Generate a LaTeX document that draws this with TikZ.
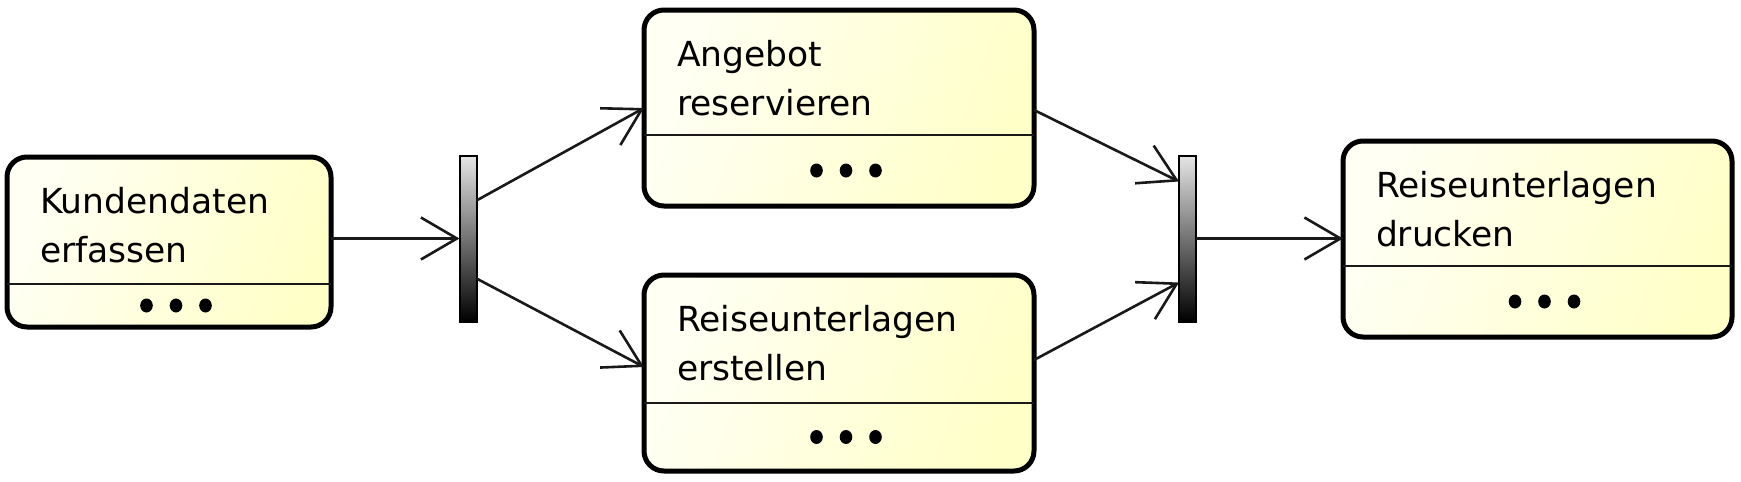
\documentclass[tikz,border=0pt]{standalone}
\usepackage{fontspec}
\setmainfont{DejaVu Sans}
\usetikzlibrary{arrows.meta,calc}
\definecolor{boxA}{RGB}{255,255,244}
\definecolor{boxB}{RGB}{255,255,200}
\definecolor{lineC}{RGB}{25,25,25}
\begin{document}
\begin{tikzpicture}[x=1pt,y=-1pt,
  actbox/.style={draw=black, line width=5pt, rounded corners=20pt, outer sep=0pt, inner sep=0pt,
     left color=boxA, right color=boxB, shading angle=70, anchor=north west},
  bar/.style={draw=black, line width=2pt, outer sep=0pt, inner sep=0pt,
     top color=black!10, bottom color=black, minimum width=17pt, minimum height=166pt},
  lbl/.style={anchor=north west, inner sep=0pt, outer sep=0pt, align=left,
     font=\fontsize{34.5}{49.5}\selectfont},
  divider/.style={draw=lineC, line width=2.3pt},
  flow/.style={draw=lineC, line width=2.6pt, -{Straight Barb[length=36pt,width=42pt,line width=2.6pt]}},
  dot/.style={fill=black}
]
\useasboundingbox (0,0) rectangle (1741,482);
% activity boxes
\node[actbox, minimum width=324pt, minimum height=170pt] (b1) at (7,157) {};
\node[actbox, minimum width=390pt, minimum height=196pt] (b2) at (644,10) {};
\node[actbox, minimum width=390pt, minimum height=196pt] (b3) at (644,275) {};
\node[actbox, minimum width=389pt, minimum height=196pt] (b4) at (1343,141) {};
% fork / join bars
\node[bar] (f1) at (468,238.5) {};
\node[bar] (f2) at (1187.5,238.5) {};
% labels
\node[lbl] (t1) at ($(b1.north west)+(33,30)$) {Kundendaten\\erfassen};
\node[lbl] (t2) at ($(b2.north west)+(33,30)$) {Angebot\\reservieren};
\node[lbl] (t3) at ($(b3.north west)+(33,30)$) {Reiseunterlagen\\erstellen};
\node[lbl] (t4) at ($(b4.north west)+(33,30)$) {Reiseunterlagen\\drucken};
% dividers and dots
\foreach \b/\d in {b1/127, b2/125, b3/128, b4/125}{
  \draw[divider] ($(\b.north west)+(0,\d)$) -- ($(\b.north east)+(0,\d)$);
  \path let \p1=($(\b.north west)+(0,\d)$), \p2=(\b.south) in
    coordinate (c) at ($(\b.north)+(7,0)$) coordinate (cy) at (\x2,{(\y1+\y2)/2});
  \foreach \k in {-29.5,0,29.5}{
    \fill[dot] ($(c |- cy)+(\k,0)$) ellipse [x radius=6.3pt, y radius=7pt];
  }
}
% connectors
\draw[flow] (b1.east |- f1.west) -- (f1.west);
\draw[flow] ([yshift=38pt]f1.east) -- (b2.west);
\draw[flow] ([yshift=-40pt]f1.east) -- ([yshift=6pt]b3.west);
\draw[flow] ([yshift=-2pt]b2.east) -- ([yshift=57pt]f2.west);
\draw[flow] ([yshift=13pt]b3.east) -- ([yshift=-44pt]f2.west);
\draw[flow] (f2.east) -- (b4.west |- f2.east);
\end{tikzpicture}
\end{document}
